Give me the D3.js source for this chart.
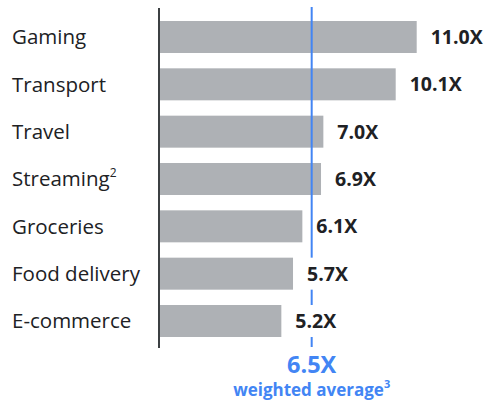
<!DOCTYPE html>
<html>
<head>
<meta charset="utf-8">
<script src="https://cdn.jsdelivr.net/npm/d3@7"></script>
<style>
  html, body { margin: 0; padding: 0; background: #fff; }
  svg { display: block; }
</style>
</head>
<body>
<svg id="chart" width="489" height="402"></svg>
<script>
// Spend multiple by category
const categories = ["Gaming", "Transport", "Travel", "Streaming", "Groceries", "Food delivery", "E-commerce"];
const superscripts = ["", "", "", "2", "", "", ""];
const values = [11.0, 10.1, 7.0, 6.9, 6.1, 5.7, 5.2];
const valueLabels = ["11.0X", "10.1X", "7.0X", "6.9X", "6.1X", "5.7X", "5.2X"];
const average = 6.5;
const averageLabel = "6.5X";
const averageCaption = "weighted average";
const averageSup = "3";

const FONT = "'Open Sans', Roboto, sans-serif";
const DARK = "#202124";
const BLUE = "#4285f4";
const BAR = "#aeb1b5";

const svg = d3.select("#chart");

const x = d3.scaleLinear().domain([0, 11]).range([160, 416.7]);
const y = d3.scaleBand().domain(categories).range([21, 337]).paddingInner(0.324).paddingOuter(0);

// bars
svg.append("g").selectAll("rect")
  .data(categories)
  .join("rect")
  .attr("x", x(0))
  .attr("y", d => y(d))
  .attr("width", (d, i) => x(values[i]) - x(0))
  .attr("height", y.bandwidth())
  .attr("fill", BAR);

// category axis line
svg.append("line")
  .attr("x1", x(0) - 1).attr("x2", x(0) - 1)
  .attr("y1", 8).attr("y2", 348)
  .attr("stroke", "#3c4043").attr("stroke-width", 2);

// category labels
const cat = svg.append("g").selectAll("text")
  .data(categories)
  .join("text")
  .attr("x", 12)
  .attr("y", d => y(d) + y.bandwidth() / 2)
  .attr("dy", "0.36em")
  .attr("font-family", FONT)
  .attr("font-size", 20.5)
  .attr("fill", DARK);
cat.append("tspan").text(d => d);
cat.append("tspan")
  .text((d, i) => superscripts[i])
  .attr("font-size", 12)
  .attr("dy", "-0.75em");

// weighted average reference line
svg.append("line")
  .attr("x1", x(average)).attr("x2", x(average))
  .attr("y1", 7).attr("y2", 347)
  .attr("stroke", BLUE).attr("stroke-width", 2);

// value labels with white backing so they sit over the line
const vg = svg.append("g").selectAll("g")
  .data(categories)
  .join("g")
  .attr("transform", (d, i) => `translate(${x(values[i]) + 14},${y(d) + y.bandwidth() / 2})`);
const bg = vg.append("rect").attr("fill", "#fff");
const vt = vg.append("text")
  .attr("dy", "0.36em")
  .attr("font-family", FONT)
  .attr("font-weight", 700)
  .attr("font-size", 19.5)
  .attr("fill", DARK)
  .text((d, i) => valueLabels[i]);
vt.each(function () {
  const w = this.getComputedTextLength();
  d3.select(this.previousSibling)
    .attr("x", -3).attr("y", -y.bandwidth() / 2)
    .attr("width", w + 6).attr("height", y.bandwidth());
});

// average annotation
svg.append("text")
  .attr("x", x(average))
  .attr("y", 373)
  .attr("text-anchor", "middle")
  .attr("font-family", FONT)
  .attr("font-weight", 700)
  .attr("font-size", 23.5)
  .attr("fill", BLUE)
  .text(averageLabel);

const cap = svg.append("text")
  .attr("x", x(average))
  .attr("y", 396)
  .attr("text-anchor", "middle")
  .attr("font-family", FONT)
  .attr("font-weight", 700)
  .attr("font-size", 17)
  .attr("fill", BLUE);
cap.append("tspan").text(averageCaption);
cap.append("tspan").text(averageSup).attr("font-size", 11).attr("dy", "-0.75em");
</script>
</body>
</html>
